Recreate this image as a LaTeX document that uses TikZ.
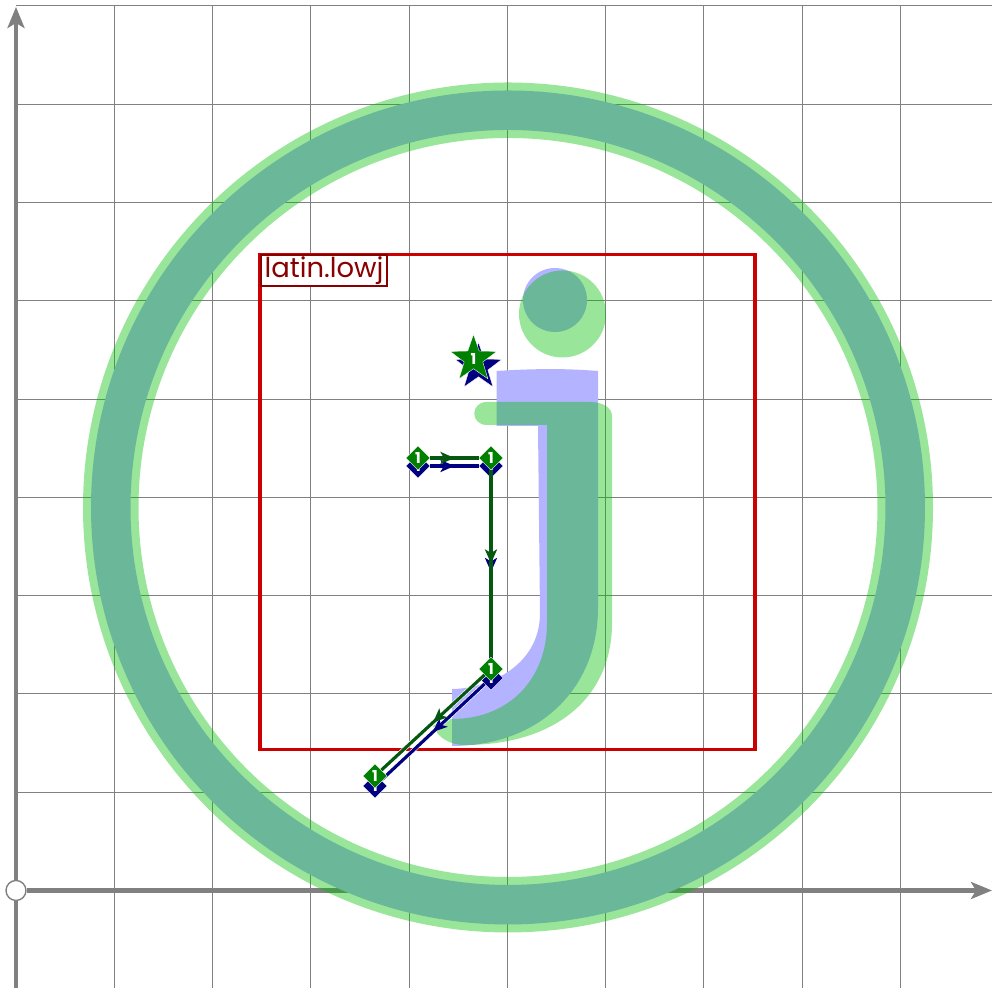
\documentclass[tikz,border=0pt]{standalone}
\usepackage{fontspec}
\setmainfont{Poppins}
\usetikzlibrary{arrows.meta,shapes.geometric,decorations.markings}

\definecolor{gridgray}{RGB}{128,128,128}
\definecolor{boxred}{RGB}{204,0,0}
\definecolor{labelred}{RGB}{136,0,0}
\definecolor{glyphblue}{RGB}{179,179,255}
\definecolor{glyphgreen}{RGB}{0,190,0}
\definecolor{pointgreen}{RGB}{0,128,0}
\definecolor{linegreen}{RGB}{6,88,16}
\definecolor{pointnavy}{RGB}{0,0,128}

\tikzset{
  gridline/.style={gridgray,line width=0.3pt},
  axisline/.style={gridgray,line width=1.3pt,-{Stealth[length=2.1mm,width=1.7mm,inset=0.5mm]}},
  bluefill/.style={fill=glyphblue},
  greenfill/.style={fill=glyphgreen,fill opacity=0.4},
  midarrow/.style={postaction={decorate},decoration={markings,
    mark=at position 0.5 with {\arrow{Stealth[length=1.4mm,width=1.2mm,inset=0.35mm]}}}},
  pathline/.style={midarrow,line width=0.9pt,preaction={draw=white,line width=1.25pt}},
  diamondpoint/.style={diamond,inner sep=0pt,minimum size=2.45mm,text=white,
    font=\fontsize{4.3}{5}\bfseries,line width=0.1pt,draw=white},
  starpoint/.style={star,star points=5,star point ratio=2.5,inner sep=0pt,minimum size=4.9mm,
    text=white,font=\fontsize{4.3}{5}\bfseries,line width=0.1pt,draw=white},
}

\begin{document}
\begin{tikzpicture}

    \useasboundingbox (0,0) rectangle (9.92,9.88);

    % vertical grid
    \draw[gridline] (1.145,0) -- (1.145,9.825);
    \draw[gridline] (2.125,0) -- (2.125,9.825);
    \draw[gridline] (3.105,0) -- (3.105,9.825);
    \draw[gridline] (4.095,0) -- (4.095,9.825);
    \draw[gridline] (5.075,0) -- (5.075,9.825);
    \draw[gridline] (6.055,0) -- (6.055,9.825);
    \draw[gridline] (7.035,0) -- (7.035,9.825);
    \draw[gridline] (8.025,0) -- (8.025,9.825);
    \draw[gridline] (9.005,0) -- (9.005,9.825);

    % horizontal grid
    \draw[gridline] (0.16,1.955) -- (9.92,1.955);
    \draw[gridline] (0.16,2.945) -- (9.92,2.945);
    \draw[gridline] (0.16,3.925) -- (9.92,3.925);
    \draw[gridline] (0.16,4.905) -- (9.92,4.905);
    \draw[gridline] (0.16,5.885) -- (9.92,5.885);
    \draw[gridline] (0.16,6.875) -- (9.92,6.875);
    \draw[gridline] (0.16,7.855) -- (9.92,7.855);
    \draw[gridline] (0.16,8.835) -- (9.92,8.835);
    \draw[gridline] (0.16,9.825) -- (9.92,9.825);

    % axes
    \coordinate (xEnd) at (9.92,0.975);
    \coordinate (yStart) at (0.16,0);
    \coordinate (yEnd) at (0.16,9.81);
    \node[circle,draw=gridgray,fill=white,line width=0.4pt,minimum size=2mm,inner sep=0pt] (origin) at (0.16,0.975) {};
    \draw[axisline] (origin) -- (xEnd);
    \draw[axisline] (origin) -- (yEnd);
    \draw[gridgray,line width=1.3pt] (origin) -- (yStart);

    % blue outline
    \fill[bluefill,even odd rule] (5.08,4.805) circle (4.17) (5.08,4.805) circle (3.775);
    \fill[bluefill] (5.55,6.88) circle (0.32);
    \fill[bluefill] (4.965,6.17) .. controls (5.3,6.19) and (5.6,6.2) .. (5.98,6.17)
        -- (5.98,3.8) .. controls (5.98,3.0) and (5.4,2.42) .. (4.52,2.42)
        -- (4.52,2.99) .. controls (4.85,2.99) and (5.4,3.2) .. (5.40,3.75)
        -- (5.38,5.62) -- (4.965,5.62) -- cycle;

    % green outline
    \fill[greenfill,even odd rule] (5.08,4.805) circle (4.25) (5.08,4.805) circle (3.695);
    \fill[greenfill] (5.625,6.74) circle (0.435);
    \fill[greenfill] (4.87,5.86) -- (5.9,5.86) .. controls (6.03,5.86) and (6.12,5.8) .. (6.12,5.72)
        -- (6.12,3.65) .. controls (6.12,2.9) and (5.55,2.43) .. (4.65,2.43)
        .. controls (4.5,2.43) and (4.38,2.5) .. (4.33,2.62)
        .. controls (4.4,2.66) and (4.46,2.69) .. (4.52,2.69)
        .. controls (5.1,2.69) and (5.47,3.1) .. (5.47,3.65)
        -- (5.47,5.63) -- (4.87,5.63) .. controls (4.7,5.63) and (4.7,5.86) .. (4.87,5.86) -- cycle;

    % bounding box and label
    \draw[boxred,line width=1pt] (2.6,2.385) rectangle (7.55,7.335);
    \node[draw=labelred,fill=white,text=labelred,line width=0.55pt,minimum width=1.26cm,minimum height=0.31cm,inner sep=0pt,text height=6.26pt,text depth=2pt,font=\fontsize{7.8}{8}\selectfont] (glyphname) at (3.24,7.175) {latin.lowj};

    % navy points
    \node[starpoint,fill=pointnavy] (navystar) at (4.785,6.21) {1};
    \node[diamondpoint,fill=pointnavy] (navyA) at (4.18,5.22) {1};
    \node[diamondpoint,fill=pointnavy] (navyB) at (4.91,5.22) {1};
    \node[diamondpoint,fill=pointnavy] (navyC) at (4.91,3.10) {1};
    \node[diamondpoint,fill=pointnavy] (navyD) at (3.75,2.02) {1};

    \draw[pathline,pointnavy] (navyA) -- (navyB);
    \draw[pathline,pointnavy] (navyB) -- (navyC);
    \draw[pathline,pointnavy] (navyC) -- (navyD);

    % green points
    \node[starpoint,fill=pointgreen] (greenstar) at (4.735,6.29) {1};
    \node[diamondpoint,fill=pointgreen] (greenA) at (4.18,5.30) {1};
    \node[diamondpoint,fill=pointgreen] (greenB) at (4.91,5.30) {1};
    \node[diamondpoint,fill=pointgreen] (greenC) at (4.91,3.19) {1};
    \node[diamondpoint,fill=pointgreen] (greenD) at (3.75,2.12) {1};

    \draw[pathline,linegreen] (greenA) -- (greenB);
    \draw[pathline,linegreen] (greenB) -- (greenC);
    \draw[pathline,linegreen] (greenC) -- (greenD);

\end{tikzpicture}
\end{document}
